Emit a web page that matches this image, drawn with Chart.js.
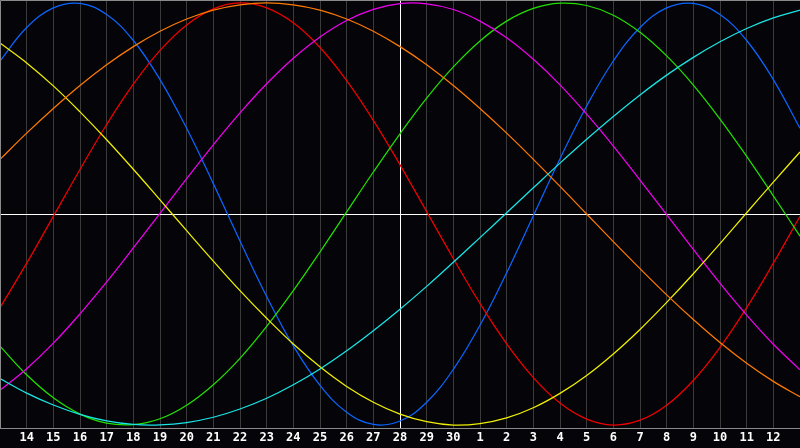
<!DOCTYPE html>
<html>
<head>
<meta charset="utf-8">
<script src="https://cdn.jsdelivr.net/npm/chart.js@4"></script>
<style>
  html, body { margin: 0; padding: 0; background: #050408; }
  #wrap { width: 800px; height: 448px; }
</style>
</head>
<body>
<div id="wrap"><canvas id="c" width="800" height="448"></canvas></div>
<script>
// Day labels (x=0 and x=30 are the hidden edge days)
const dayLabels = ['13','14','15','16','17','18','19','20','21','22','23','24','25','26','27','28','29','30',
                   '1','2','3','4','5','6','7','8','9','10','11','12','13'];
const todayIndex = 15;

// Series values (range -1..1), one per day
const blueSeries = [0.725,0.884,0.977,0.998,0.945,0.822,0.637,0.406,0.144,-0.128,-0.391,-0.625,-0.812,-0.939,-0.997,-0.981,-0.892,-0.736,-0.527,-0.278,-0.008,0.262,0.512,0.725,0.884,0.977,0.998,0.945,0.822,0.637,0.406];
const redSeries = [-0.444,-0.233,-0.011,0.211,0.424,0.615,0.775,0.896,0.972,1.000,0.977,0.906,0.789,0.632,0.444,0.233,0.011,-0.211,-0.424,-0.615,-0.775,-0.896,-0.972,-1.000,-0.977,-0.906,-0.789,-0.632,-0.444,-0.233,-0.011];
const greenSeries = [-0.626,-0.762,-0.871,-0.948,-0.991,-0.998,-0.970,-0.906,-0.809,-0.684,-0.533,-0.363,-0.180,0.010,0.199,0.380,0.549,0.697,0.820,0.914,0.974,0.999,0.988,0.942,0.861,0.749,0.611,0.450,0.273,0.086,-0.105];
const magentaSeries = [-0.835,-0.733,-0.612,-0.473,-0.322,-0.161,0.003,0.168,0.328,0.479,0.617,0.738,0.839,0.917,0.970,0.997,0.996,0.969,0.914,0.835,0.733,0.612,0.473,0.322,0.161,-0.003,-0.168,-0.328,-0.479,-0.617,-0.738];
const yellowSeries = [0.810,0.716,0.607,0.484,0.352,0.212,0.067,-0.079,-0.223,-0.363,-0.494,-0.616,-0.724,-0.817,-0.892,-0.948,-0.984,-1.000,-0.993,-0.966,-0.918,-0.850,-0.765,-0.663,-0.547,-0.419,-0.283,-0.140,0.006,0.151,0.294];
const orangeSeries = [0.259,0.383,0.500,0.609,0.707,0.793,0.866,0.924,0.966,0.991,1.000,0.991,0.966,0.924,0.866,0.793,0.707,0.609,0.500,0.383,0.259,0.131,0.000,-0.131,-0.259,-0.383,-0.500,-0.609,-0.707,-0.793,-0.866];
const cyanSeries = [-0.780,-0.849,-0.905,-0.949,-0.980,-0.997,-0.999,-0.988,-0.963,-0.924,-0.873,-0.809,-0.734,-0.648,-0.553,-0.451,-0.343,-0.229,-0.112,0.006,0.124,0.241,0.354,0.462,0.564,0.658,0.742,0.816,0.879,0.929,0.966];

const frameColor = '#8a8a8a';
const gridColor = '#3a3a3a';

function ds(data, color) {
  return { data, borderColor: color, borderWidth: 1.25, pointRadius: 0, tension: 0.4, fill: false };
}

const framePlugin = {
  id: 'frame',
  beforeDraw(chart) {
    const ctx = chart.ctx;
    ctx.save();
    ctx.fillStyle = '#050408';
    ctx.fillRect(0, 0, chart.width, chart.height);
    ctx.restore();
  },
  afterDraw(chart) {
    const a = chart.chartArea, ctx = chart.ctx;
    ctx.save();
    ctx.strokeStyle = frameColor;
    ctx.lineWidth = 1;
    ctx.beginPath();
    ctx.moveTo(a.left + 0.5, a.bottom);
    ctx.lineTo(a.left + 0.5, a.top + 0.5);
    ctx.lineTo(a.right, a.top + 0.5);
    ctx.moveTo(a.left, a.bottom + 0.5);
    ctx.lineTo(a.right, a.bottom + 0.5);
    ctx.stroke();
    ctx.restore();
  }
};

new Chart(document.getElementById('c'), {
  type: 'line',
  data: {
    labels: dayLabels,
    datasets: [
      ds(cyanSeries, '#19e6e6'),
      ds(orangeSeries, '#ff7a00'),
      ds(yellowSeries, '#f0f000'),
      ds(magentaSeries, '#f000f0'),
      ds(greenSeries, '#22e000'),
      ds(redSeries, '#f00000'),
      ds(blueSeries, '#0a66ff')
    ]
  },
  options: {
    responsive: false,
    animation: false,
    events: [],
    layout: { padding: 0 },
    plugins: { legend: { display: false }, tooltip: { enabled: false } },
    scales: {
      x: {
        type: 'category',
        offset: false,
        border: { display: false },
        grid: {
          drawTicks: false,
          lineWidth: 1,
          color: (c) => c.index === todayIndex ? '#ffffff' : (c.index === 0 || c.index === dayLabels.length - 1 ? 'rgba(0,0,0,0)' : gridColor)
        },
        ticks: {
          autoSkip: false,
          maxRotation: 0,
          padding: 0,
          color: '#ffffff',
          font: { family: 'DejaVu Sans Mono', size: 12, weight: 'bold', lineHeight: '20px' },
          callback: (v, i) => (i === 0 || i === dayLabels.length - 1) ? '' : dayLabels[i]
        }
      },
      y: {
        min: -1.014,
        max: 1.014,
        border: { display: false },
        afterBuildTicks: (s) => { s.ticks = [{ value: 0 }]; },
        grid: { drawTicks: false, color: '#ffffff', lineWidth: 1 },
        ticks: { display: false, padding: 0 }
      }
    }
  },
  plugins: [framePlugin]
});
</script>
</body>
</html>
